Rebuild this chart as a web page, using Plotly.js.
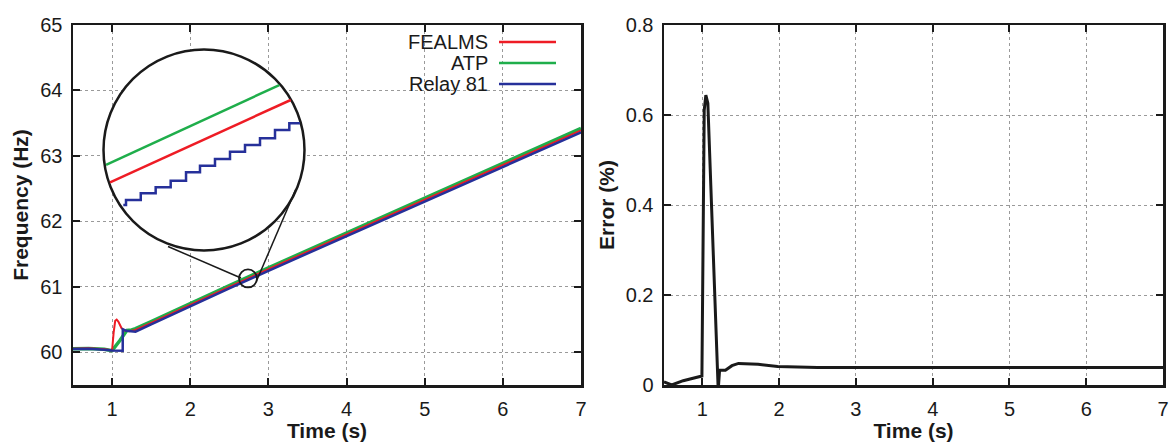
<!DOCTYPE html>
<html><head><meta charset="utf-8">
<script src="https://cdn.plot.ly/plotly-3.0.1.min.js"></script>
<style>html,body{margin:0;padding:0;background:#fff;}</style>
</head><body>
<div id="chart" style="width:1174px;height:443px;"></div>
<script>
// ---------- Left panel: frequency (Hz) ----------
const seriesNames = ['FEALMS', 'ATP', 'Relay 81'];
const seriesColors = ['#ee1c25', '#1fae4b', '#26309a'];

const timeFealms = [0.5, 0.7, 0.9, 1.0, 1.02, 1.04, 1.059, 1.08, 1.12, 1.16, 1.22, 1.3, 1.5, 2.0, 2.5, 3.0, 3.5, 4.0, 4.5, 5.0, 5.5, 6.0, 6.5, 7.0];
const freqFealms = [60.055, 60.06, 60.045, 60.03, 60.30, 60.48, 60.50, 60.47, 60.37, 60.33, 60.32, 60.34, 60.45, 60.73, 61.00, 61.27, 61.535, 61.80, 62.065, 62.33, 62.595, 62.86, 63.125, 63.39];

const timeAtp = [0.5, 0.7, 0.9, 1.0, 1.1, 1.19, 1.25, 1.3, 1.5, 2.0, 2.5, 3.0, 3.5, 4.0, 4.5, 5.0, 5.5, 6.0, 6.5, 7.0];
const freqAtp = [60.055, 60.058, 60.045, 60.025, 60.18, 60.335, 60.34, 60.36, 60.47, 60.75, 61.02, 61.29, 61.555, 61.82, 62.085, 62.35, 62.615, 62.88, 63.145, 63.42];

const timeRelay = [0.5, 0.7, 0.9, 1.0, 1.136, 1.137, 1.18, 1.25, 1.3, 1.5, 2.0, 2.5, 3.0, 3.5, 4.0, 4.5, 5.0, 5.5, 6.0, 6.5, 7.0];
const freqRelay = [60.05, 60.055, 60.04, 60.028, 60.025, 60.35, 60.33, 60.315, 60.315, 60.425, 60.705, 60.975, 61.245, 61.51, 61.775, 62.04, 62.305, 62.57, 62.835, 63.10, 63.36];

// ---------- Magnified inset (around t = 2.74 s) ----------
const zoomTimeAtp = [2.6267, 2.7260, 2.8253];
const zoomFreqAtp = [61.1075, 61.1622, 61.2169];
const zoomTimeFealms = [2.6313, 2.7349, 2.8384];
const zoomFreqFealms = [61.0838, 61.1401, 61.1964];
const zoomTimeRelay = [2.6465, 2.6496, 2.6665, 2.6836, 2.7008, 2.7184, 2.7344, 2.7516, 2.7688, 2.7860, 2.8032, 2.8204, 2.8368, 2.8490];
const zoomFreqRelay = [61.0528, 61.0596, 61.0688, 61.0770, 61.0860, 61.0975, 61.1065, 61.1157, 61.1257, 61.1348, 61.1440, 61.1554, 61.1645, 61.1645];

// ---------- Right panel: error (%) ----------
const timeError = [0.5, 0.6, 0.75, 0.96, 0.994, 1.024, 1.045, 1.071, 1.206, 1.224, 1.30, 1.385, 1.47, 1.726, 1.98, 2.5, 3.0, 4.0, 5.0, 6.0, 7.0];
const errorPct = [0.007, 0.0, 0.0096, 0.018, 0.02, 0.611, 0.644, 0.626, -0.011, 0.033, 0.033, 0.043, 0.048, 0.046, 0.041, 0.039, 0.039, 0.039, 0.039, 0.039, 0.039];

const xTicks = [1, 2, 3, 4, 5, 6, 7];
const freqTicks = [60, 61, 62, 63, 64, 65];
const errTicks = [0, 0.2, 0.4, 0.6, 0.8];

const FONT = 'Liberation Sans, Arial, Helvetica, sans-serif';
const ink = '#1a1a1a';

// geometry helpers (pixel -> paper)
const L = 73, R = 1172, T = 25, B = 385;
const px = x => (x - L) / (R - L);
const py = y => (B - y) / (B - T);

const axBase = {
  showline: true, linecolor: ink, linewidth: 2.5, mirror: 'ticks',
  ticks: 'inside', ticklen: 7, tickwidth: 2, tickcolor: ink,
  showgrid: true, gridcolor: '#9a9a9a', griddash: 'dot', gridwidth: 1,
  zeroline: false, tickfont: {family: FONT, size: 20, color: ink},
  ticklabelstandoff: 4
};
const titleFont = {family: FONT, size: 21, color: ink, weight: 'bold'};

const traces = [
  {x: timeAtp, y: freqAtp, xaxis: 'x', yaxis: 'y', mode: 'lines', name: seriesNames[1], line: {color: seriesColors[1], width: 3.5}},
  {x: timeFealms, y: freqFealms, xaxis: 'x', yaxis: 'y', mode: 'lines', name: seriesNames[0], line: {color: seriesColors[0], width: 2}},
  {x: timeRelay, y: freqRelay, xaxis: 'x', yaxis: 'y', mode: 'lines', name: seriesNames[2], line: {color: seriesColors[2], width: 2.5}},
  {x: zoomTimeAtp, y: zoomFreqAtp, xaxis: 'x3', yaxis: 'y3', mode: 'lines', line: {color: seriesColors[1], width: 2.5}},
  {x: zoomTimeFealms, y: zoomFreqFealms, xaxis: 'x3', yaxis: 'y3', mode: 'lines', line: {color: seriesColors[0], width: 2.5}},
  {x: zoomTimeRelay, y: zoomFreqRelay, xaxis: 'x3', yaxis: 'y3', mode: 'lines', line: {color: seriesColors[2], width: 2.5, shape: 'hv'}},
  {x: timeError, y: errorPct, xaxis: 'x2', yaxis: 'y2', mode: 'lines', name: 'Error', line: {color: ink, width: 3}}
];

// legend (text left of the line sample, as in the original)
const legY = [42, 63, 84];
const annotations = seriesNames.map((n, i) => ({
  xref: 'paper', yref: 'paper', x: px(490), y: py(legY[i]), xanchor: 'right', yanchor: 'middle',
  text: n, showarrow: false, font: {family: FONT, size: 20, color: ink}
}));
const shapes = seriesNames.map((n, i) => ({
  type: 'line', xref: 'paper', yref: 'paper', x0: px(499), x1: px(556), y0: py(legY[i]), y1: py(legY[i]),
  line: {color: seriesColors[i], width: 2.5}, layer: 'above'
}));

// magnifier: big circle (inset frame), small circle on the curves, connecting lines
shapes.push({type: 'circle', xref: 'x3', yref: 'y3', x0: 2.6238, x1: 2.8542, y0: 60.9905, y1: 61.2655,
  line: {color: ink, width: 2.5}, fillcolor: '#ffffff', layer: 'between'});
shapes.push({type: 'circle', xref: 'x', yref: 'y', x0: 2.624, x1: 2.854, y0: 60.991, y1: 61.266,
  line: {color: ink, width: 1.8}, layer: 'above'});
shapes.push({type: 'line', xref: 'paper', yref: 'paper', x0: px(168), y0: py(246.5), x1: px(241), y1: py(278),
  line: {color: ink, width: 1.5}, layer: 'above'});
shapes.push({type: 'line', xref: 'paper', yref: 'paper', x0: px(295.7), y0: py(189.5), x1: px(256.5), y1: py(281),
  line: {color: ink, width: 1.5}, layer: 'above'});

const layout = {
  width: 1174, height: 443,
  margin: {l: L, r: 1174 - R, t: T, b: 443 - B},
  paper_bgcolor: '#fff', plot_bgcolor: 'rgba(0,0,0,0)',
  showlegend: false,
  font: {family: FONT, color: ink},
  xaxis: Object.assign({}, axBase, {domain: [0, px(581)], range: [0.5, 7], tickvals: xTicks, anchor: 'y',
    title: {text: 'Time (s)', font: titleFont, standoff: 5}}),
  yaxis: Object.assign({}, axBase, {domain: [0, 1], range: [59.5, 65], tickvals: freqTicks, anchor: 'x',
    title: {text: 'Frequency (Hz)', font: titleFont, standoff: 6}}),
  xaxis2: Object.assign({}, axBase, {domain: [px(664), px(1163)], range: [0.5, 7], tickvals: xTicks, anchor: 'y2',
    title: {text: 'Time (s)', font: titleFont, standoff: 5}}),
  yaxis2: Object.assign({}, axBase, {domain: [0, 1], range: [0, 0.8], tickvals: errTicks, anchor: 'x2',
    title: {text: 'Error (%)', font: titleFont, standoff: 6}}),
  xaxis3: {domain: [px(94), px(314)], range: [2.6129, 2.8651], anchor: 'y3', visible: false, fixedrange: true},
  yaxis3: {domain: [py(260), py(40)], range: [60.9775, 61.2785], anchor: 'x3', visible: false, fixedrange: true},
  annotations: annotations,
  shapes: shapes
};

Plotly.newPlot('chart', traces, layout, {displayModeBar: false, staticPlot: true});
</script>
</body></html>
